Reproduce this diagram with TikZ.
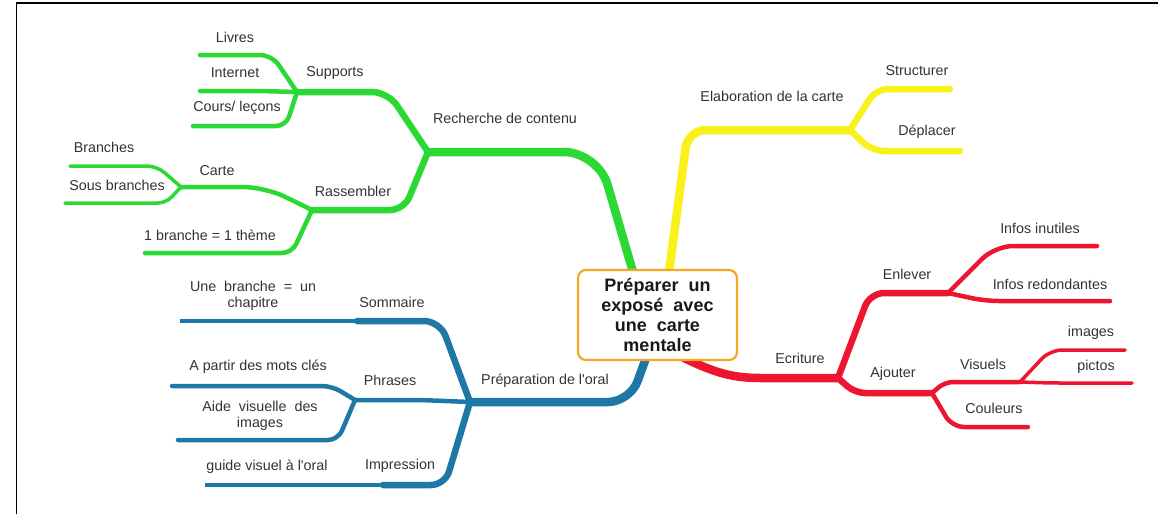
\documentclass[tikz,border=0pt]{standalone}
\usepackage{fontspec}
\newfontfamily\lsans{Liberation Sans}
\begin{document}
\begin{tikzpicture}[x=1pt,y=-1pt,
  lbl/.style={font=\lsans\fontsize{14.3}{16}\selectfont, text=black!80, inner sep=0pt, align=center},
  br/.style={line cap=round, rounded corners=#1},
  br/.default=14,
  lw1/.style={line width=8.5pt},
  lw2/.style={line width=6.5pt},
  lw3/.style={line width=4.5pt},
  lw4/.style={line width=3.5pt},
  central/.style={draw=corange, line width=2.2pt, rounded corners=8pt, fill=white,
     minimum width=159pt, minimum height=90pt, align=center, inner sep=2pt,
     font=\lsans\fontsize{18}{20}\selectfont\bfseries, text=black!90}
]
\definecolor{cgreen}{HTML}{2AD934}
\definecolor{cyellow}{HTML}{F9F01C}
\definecolor{cred}{HTML}{EE1530}
\definecolor{cblue}{HTML}{1D78A6}
\definecolor{corange}{HTML}{F5A623}
\useasboundingbox (0,0) rectangle (1158,514);
\fill[white] (0,0) rectangle (1158,514);
\draw[line width=1.5pt] (16.5,514) -- (16.5,3) -- (1158,3);

% junction coordinates
\coordinate (cg) at (633,272);
\coordinate (cy) at (669,272);
\coordinate (cr) at (684,358);
\coordinate (cb) at (646,358);
\coordinate (jrech) at (428,152);
\coordinate (jsup) at (297,92);
\coordinate (jras) at (312,210);
\coordinate (jcar) at (181,187);
\coordinate (jela) at (850,130);
\coordinate (jecr) at (838,378);
\coordinate (jenl) at (948,293);
\coordinate (jajo) at (932,393);
\coordinate (jvis) at (1020,382);
\coordinate (jpre) at (470,402);
\coordinate (jsom) at (357,321);
\coordinate (jphr) at (355,400);
\coordinate (jimp) at (383,485);
% end coordinates
\coordinate (eliv) at (200,55);
\coordinate (eint) at (200,91);
\coordinate (ecou) at (193,126);
\coordinate (ebra) at (70,166);
\coordinate (esou) at (65,203);
\coordinate (ethe) at (145,253);
\coordinate (estr) at (950,89);
\coordinate (edep) at (960,151);
\coordinate (einu) at (1097,246);
\coordinate (ered) at (1110,301);
\coordinate (eima) at (1125,350);
\coordinate (epic) at (1132,383);
\coordinate (ecol) at (1028,427);
\coordinate (euneb) at (180,321);
\coordinate (epar) at (172,386);
\coordinate (eaid) at (178,440);
\coordinate (egui) at (205,485);

% green
\draw[cgreen, lw1, br=34] (cg) -- (598,152) -- (jrech);
\draw[cgreen, lw2, br=16] (jrech) -- (388,92) -- (jsup);
\draw[cgreen, lw2, br=14] (jrech) -- (404,210) -- (jras);
\draw[cgreen, lw3, br=12] (jsup) -- (272,55) -- (eliv);
\draw[cgreen, lw3, br=10] (jsup) -- (260,91) -- (eint);
\draw[cgreen, lw3, br=10] (jsup) -- (286,126) -- (ecou);
\draw[cgreen, lw3, br=22] (jras) -- (265,187) -- (jcar);
\draw[cgreen, lw3, br=10] (jras) -- (292,253) -- (ethe);
\draw[cgreen, lw4, br=10] (jcar) -- (157,166) -- (ebra);
\draw[cgreen, lw4, br=8] (jcar) -- (166,203) -- (esou);

% yellow
\draw[cyellow, lw1, br=18] (cy) -- (688,130) -- (jela);
\draw[cyellow, lw2, br=12] (jela) -- (876,89) -- (estr);
\draw[cyellow, lw2, br=12] (jela) -- (872,151) -- (edep);

% red
\draw[cred, lw1, line cap=round] (cr) to[out=-25,in=180] (760,378) -- (jecr);
\draw[cred, lw2, br=14] (jecr) -- (870,293) -- (jenl);
\draw[cred, lw2, br=10] (jecr) -- (855,393) -- (jajo);
\draw[cred, lw3, br=18] (jenl) -- (995,246) -- (einu);
\draw[cred, lw3, br=14] (jenl) -- (985,301) -- (ered);
\draw[cred, lw3, br=8] (jajo) -- (945,382) -- (jvis);
\draw[cred, lw3, br=12] (jajo) -- (952,427) -- (ecol);
\draw[cred, lw4, br=12] (jvis) -- (1050,350) -- (eima);
\draw[cred, lw4, br=10] (jvis) -- (1050,383) -- (epic);

% blue
\draw[cblue, lw1, br=22] (cb) -- (630,402) -- (jpre);
\draw[cblue, lw2, br=16] (jpre) -- (440,321) -- (jsom);
\draw[cblue, lw3, br=10] (jpre) -- (420,400) -- (jphr);
\draw[cblue, lw2, br=14] (jpre) -- (445,485) -- (jimp);
\draw[cblue, lw3] (jsom) -- (euneb);
\draw[cblue, lw3] (jimp) -- (egui);
\draw[cblue, lw3, br=10] (jphr) -- (332,386) -- (epar);
\draw[cblue, lw3, br=10] (jphr) -- (338,440) -- (eaid);

% central node
\node[central] (center) at (657.5,315) {Préparer\ \ un\\exposé\ \ avec\\une\ \ carte\\mentale};

% labels
\node[lbl] (lrech) at (505,118) {Recherche de contenu};
\node[lbl] (lsup) at (335,73) {Supports};
\node[lbl] (lliv) at (235,37) {Livres};
\node[lbl] (lint) at (235,73) {Internet};
\node[lbl] (lcou) at (237,108) {Cours/ leçons};
\node[lbl] (lras) at (353,191) {Rassembler};
\node[lbl] (lcar) at (217,171) {Carte};
\node[lbl] (lbra) at (104,147) {Branches};
\node[lbl] (lsou) at (117,185) {Sous branches};
\node[lbl] (lthe) at (210,235) {1 branche = 1 thème};
\node[lbl] (lela) at (772,96) {Elaboration de la carte};
\node[lbl] (lstr) at (917,71) {Structurer};
\node[lbl] (ldep) at (927,132) {Déplacer};
\node[lbl] (lecr) at (800,358) {Ecriture};
\node[lbl] (lenl) at (907,274) {Enlever};
\node[lbl] (linu) at (1040,228) {Infos inutiles};
\node[lbl] (lred) at (1050,284) {Infos redondantes};
\node[lbl] (lajo) at (893,374) {Ajouter};
\node[lbl] (lvis) at (983,364) {Visuels};
\node[lbl] (lima) at (1091,333) {images};
\node[lbl] (lpic) at (1096,367) {pictos};
\node[lbl] (lcol) at (994,408) {Couleurs};
\node[lbl] (lpre) at (545,381) {Préparation de l'oral};
\node[lbl] (lsom) at (392,302) {Sommaire};
\node[lbl] (luneb) at (253,296) {Une\ \ branche\ \ =\ \ un\\chapitre};
\node[lbl] (lphr) at (390,380) {Phrases};
\node[lbl] (lpar) at (258,367) {A partir des mots clés};
\node[lbl] (laid) at (260,416) {Aide\ \ visuelle\ \ des\\images};
\node[lbl] (limp) at (400,466) {Impression};
\node[lbl] (lgui) at (267,467) {guide visuel à l'oral};
\end{tikzpicture}
\end{document}
